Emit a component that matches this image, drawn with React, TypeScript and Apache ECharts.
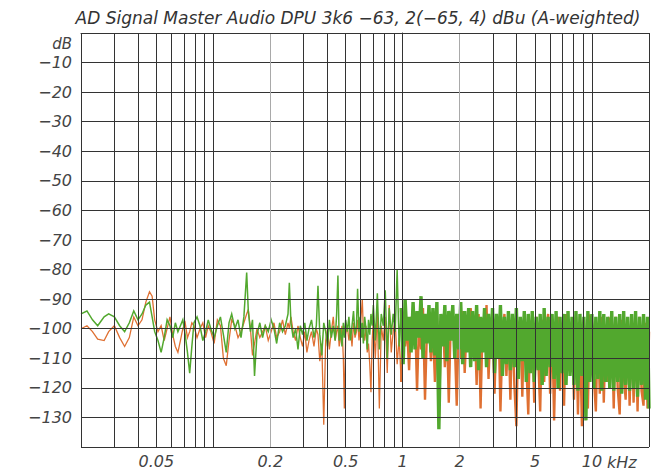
import { useEffect, useRef } from 'react';
import * as echarts from 'echarts';

const TITLE = 'AD Signal Master Audio DPU 3k6 −63, 2(−65, 4) dBu (A-weighted)';
const Y_UNIT = 'dB';
const X_UNIT = 'kHz';

// vertical grid lines (kHz)
const gridFreqsKHz = [0.02, 0.03, 0.04, 0.05, 0.06, 0.07, 0.08, 0.09, 0.1, 0.2, 0.3, 0.4, 0.5, 0.6, 0.7, 0.8, 0.9, 1, 2, 3, 4, 5, 6, 7, 8, 9, 10, 20];
const lightGridKHz = [0.2, 2];
const labelFreqsKHz = [0.05, 0.2, 0.5, 1, 2, 5, 10];
const dbMin = -140;
const dbMax = 0;
const dbStep = 10;

// low-frequency part (Hz)
const sparseFreqHz = [
  20, 21.5, 23, 24.5, 26.5, 28, 30, 32, 34, 36,
  38, 40, 42, 44, 46, 47.5, 49, 51, 53, 55,
  57, 59, 61, 63, 65, 67, 69, 71, 73, 75,
  77, 79, 82, 85, 88, 91, 94, 97, 101, 105,
  109, 113, 117, 121, 125, 130, 135, 140, 145, 150,
  153, 157, 161, 165, 170, 176, 182, 188, 195, 202,
  209, 216, 224, 232, 240, 248, 252, 257, 264, 272,
  280, 288, 296, 304, 312, 320, 330, 340, 350, 357,
  365, 374, 383, 392, 401, 410, 420, 430, 440, 448,
  455, 462, 470, 478, 486, 492, 500, 510, 520, 530,
  540, 550, 560, 570, 578, 588, 597, 606, 612, 620,
  630, 640, 650, 660, 670, 680, 690,
];
const sparseGreenDb = [
  -95, -94, -97, -99, -96, -95, -96, -99, -101, -98,
  -94, -97, -95, -92, -91, -96, -101, -104, -108, -103,
  -97, -99, -103, -98, -101, -99, -97, -102, -108, -115,
  -106, -98, -96, -99, -104, -101, -97, -100, -103, -99,
  -96, -102, -108, -98, -95, -100, -97, -103, -96, -81,
  -94, -101, -97, -116, -102, -98, -103, -99, -101, -97,
  -100, -105, -98, -101, -99, -95, -84.5, -98, -103, -100,
  -107, -99, -102, -98, -104, -100, -97, -103, -99, -85.5,
  -102, -109, -98, -101, -106, -97, -103, -99, -104, -95,
  -82, -104, -100, -106, -98, -103, -97, -101, -96, -104,
  -99, -94, -102, -99, -86.5, -101, -96, -103, -98, -105,
  -96, -100, -107, -97, -102, -95, -99,
];
const sparseOrangeDb = [
  -100, -99, -101, -103.5, -104, -101, -99, -103, -106, -103,
  -96, -99, -97, -91, -87.5, -89, -97, -101, -99, -104,
  -100, -96, -102, -106, -108, -104, -100, -98, -103, -101,
  -98, -99, -103, -100, -98, -103, -99, -101, -105, -97,
  -99, -110, -112.5, -104, -97, -99, -103, -101, -98, -95,
  -93.5, -100, -109, -105, -100, -103, -101, -99, -104, -101,
  -98, -103, -101, -97, -102, -98, -100, -96, -101, -104,
  -99, -103, -106, -101, -108, -104, -101, -106, -100, -102,
  -111, -105, -132.5, -104, -100, -107, -101, -96, -104, -101,
  -99, -106, -103, -99, -110, -127, -102, -99, -104, -100,
  -106, -98, -103, -101, -97, -104, -99, -94, -90, -101,
  -104, -99, -108, -105, -112, -121.5, -104,
];

// high-frequency dense part (Hz)
const denseFreqHz = [
  700, 717, 735, 753, 771, 790, 809, 829, 849, 870,
  891, 913, 935, 958, 982, 1006, 1030, 1055, 1081, 1108,
  1135, 1162, 1191, 1220, 1250, 1280, 1312, 1344, 1377, 1410,
  1445, 1480, 1516, 1553, 1591, 1630, 1670, 1711, 1752, 1795,
  1839, 1884, 1930, 1977, 2026, 2075, 2126, 2178, 2231, 2286,
  2342, 2399, 2458, 2518, 2579, 2642, 2707, 2773, 2841, 2911,
  2982, 3055, 3129, 3206, 3284, 3365, 3447, 3531, 3618, 3706,
  3797, 3890, 3985, 4082, 4182, 4285, 4389, 4497, 4607, 4719,
  4835, 4953, 5074, 5198, 5325, 5456, 5589, 5726, 5866, 6009,
  6156, 6307, 6461, 6619, 6781, 6947, 7117, 7291, 7470, 7652,
  7840, 8031, 8228, 8429, 8635, 8846, 9063, 9284, 9511, 9744,
  9982, 10226, 10477, 10733, 10996, 11265, 11540, 11823, 12112, 12408,
  12712, 13023, 13341, 13668, 14002, 14345, 14696, 15055, 15424, 15801,
  16188, 16584, 16990, 17405, 17831, 18268, 18715, 19173, 19642, 20000,
];
const denseGreenDb = [
  -92, -104, -88, -107, -95, -99, -87, -110, -93, -102,
  -95, -101, -80, -106, -93, -112, -90, -104, -96, -108,
  -91, -107, -94, -103, -89, -110, -95, -105, -92, -108,
  -93, -109, -91, -134, -95, -106, -92, -111, -94, -104,
  -92, -110, -95, -107, -91, -112, -94, -108, -93, -113,
  -94, -111, -92, -114, -96, -108, -93, -113, -95, -110,
  -93, -115, -95, -110, -92, -116, -96, -112, -94, -114,
  -95, -113, -93, -117, -96, -111, -94, -118, -95, -115,
  -94, -118, -96, -114, -95, -119, -93, -116, -96, -113,
  -95, -117, -94, -120, -96, -115, -95, -119, -94, -116,
  -96, -119, -94, -121, -95, -116, -96, -131, -94, -118,
  -95, -120, -96, -117, -94, -121, -95, -118, -96, -120,
  -94, -121, -96, -118, -95, -122, -94, -119, -96, -121,
  -95, -120, -94, -123, -96, -119, -95, -124, -96, -127,
];
const denseOrangeDb = [
  -97, -110, -94, -127, -99, -104, -96, -115, -92, -108,
  -101, -97, -112, -103, -118, -95, -106, -99, -114, -96,
  -104, -95, -121, -98, -107, -93, -124, -100, -97, -111,
  -99, -118, -95, -131, -102, -96, -113, -98, -125, -97,
  -96, -104, -126, -98, -110, -94, -115, -99, -107, -93,
  -101, -97, -119, -95, -127, -99, -105, -92, -117, -98,
  -97, -122, -100, -96, -128, -103, -95, -116, -99, -124,
  -96, -119, -133, -100, -97, -123, -95, -112, -129, -98,
  -99, -125, -96, -110, -128, -97, -118, -101, -95, -122,
  -97, -131, -100, -96, -121, -98, -126, -95, -113, -103,
  -98, -124, -96, -129, -101, -133, -97, -119, -127, -96,
  -97, -116, -128, -99, -122, -96, -125, -100, -118, -97,
  -98, -127, -96, -120, -129, -97, -115, -124, -99, -126,
  -97, -125, -99, -128, -96, -121, -126, -98, -127, -101,
];

const FONT = "'DejaVu Sans', sans-serif";
const GRID_DARK = '#333333';
const GRID_LIGHT = '#a9a9a9';
const GREEN = '#52a82e';
const ORANGE = '#df7032';
const SPLIT_HZ = 1000; // below: thin trace, above: dense (thick) trace

const lg = (v: number) => Math.log10(v);

function buildPoints(freqs: number[], db: number[]) {
  const n = Math.min(freqs.length, db.length);
  const out: number[][] = [];
  for (let i = 0; i < n; i++) out.push([lg(freqs[i] / 1000), db[i]]);
  return out;
}

function fmtK(v: number) {
  return String(parseFloat(Math.pow(10, v).toPrecision(3)));
}

function lineSeries(name: string, data: number[][], color: string, width: number, z: number) {
  return {
    name,
    type: 'line',
    data,
    showSymbol: false,
    symbol: 'none',
    lineStyle: { color, width, join: 'miter', miterLimit: 4 },
    itemStyle: { color },
    z,
  };
}

export default function App() {
  const ref = useRef<HTMLDivElement>(null);
  useEffect(() => {
    if (!ref.current) return;
    const chart = echarts.init(ref.current, undefined, { renderer: 'svg' });
    const freqHz = [...sparseFreqHz, ...denseFreqHz];
    const gAll = buildPoints(freqHz, [...sparseGreenDb, ...denseGreenDb]);
    const oAll = buildPoints(freqHz, [...sparseOrangeDb, ...denseOrangeDb]);
    const splitX = lg(SPLIT_HZ / 1000);
    let cut = gAll.findIndex((p) => p[0] >= splitX);
    if (cut < 1) cut = 1;
    const gLow = gAll.slice(0, cut);
    const oLow = oAll.slice(0, cut);
    // the high part continues from the last low-frequency bin
    const gHigh = gAll.slice(cut - 1);
    const oHigh = oAll.slice(cut - 1);
    const gridX = gridFreqsKHz.map(lg);
    const gridColors = gridFreqsKHz.map((f) => (lightGridKHz.includes(f) ? GRID_LIGHT : GRID_DARK));
    const labelX = labelFreqsKHz.map(lg);
    chart.setOption({
      animation: false,
      backgroundColor: '#ffffff',
      grid: { left: 81, right: 15, top: 33, bottom: 25, containLabel: false },
      xAxis: {
        type: 'value',
        z: 10,
        min: lg(gridFreqsKHz[0]),
        max: lg(gridFreqsKHz[gridFreqsKHz.length - 1]),
        axisLine: { show: true, lineStyle: { color: GRID_DARK, width: 1 } },
        axisTick: { show: false, customValues: gridX },
        axisLabel: {
          customValues: labelX,
          formatter: (v: number) => fmtK(v),
          fontSize: 16,
          fontStyle: 'italic',
          fontFamily: FONT,
          color: '#444',
          margin: 6,
        },
        splitLine: { show: true, lineStyle: { color: gridColors, width: 1 } },
      },
      yAxis: {
        type: 'value',
        z: 10,
        min: dbMin,
        max: dbMax,
        interval: dbStep,
        offset: 5,
        axisLine: { show: true, lineStyle: { color: GRID_DARK, width: 1 } },
        axisTick: { show: true, inside: true, length: 5, lineStyle: { color: GRID_DARK } },
        axisLabel: {
          formatter: (v: number) => (v === dbMax || v === dbMin ? '' : '−' + Math.abs(v)),
          fontSize: 16,
          fontStyle: 'italic',
          fontFamily: FONT,
          color: '#444',
          margin: 4,
        },
        splitLine: { show: true, lineStyle: { color: GRID_DARK, width: 1 } },
      },
      graphic: [
        {
          type: 'text',
          x: 358,
          y: 18,
          style: { text: TITLE, align: 'center', verticalAlign: 'middle', fontSize: 17, fontStyle: 'italic', fontFamily: FONT, fill: '#333' },
        },
        {
          type: 'text',
          x: 72,
          y: 44,
          style: { text: Y_UNIT, align: 'right', verticalAlign: 'middle', fontSize: 15, fontStyle: 'italic', fontFamily: FONT, fill: '#444' },
        },
        {
          type: 'text',
          x: 607,
          y: 462,
          style: { text: X_UNIT, align: 'left', verticalAlign: 'middle', fontSize: 16, fontStyle: 'italic', fontFamily: FONT, fill: '#444' },
        },
      ],
      series: [
        lineSeries('L', oLow, ORANGE, 1.3, 2),
        lineSeries('L', oHigh, ORANGE, 2.4, 2),
        lineSeries('R', gLow, GREEN, 1.5, 3),
        lineSeries('R', gHigh, GREEN, 3.4, 3),
      ],
    });
    return () => chart.dispose();
  }, []);
  return (
    <div
      ref={ref}
      style={{ position: 'absolute', left: 0, top: 0, width: 664, height: 472, background: '#fff' }}
    />
  );
}
